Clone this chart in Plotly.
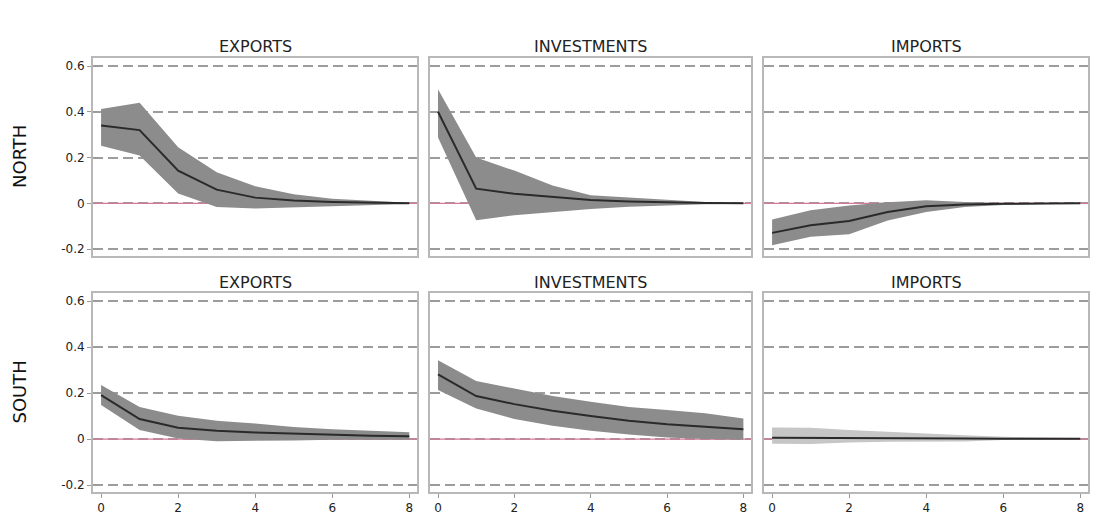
import plotly.graph_objects as go
from plotly.subplots import make_subplots

horizon = [0, 1, 2, 3, 4, 5, 6, 7, 8]
regions = ["NORTH", "SOUTH"]
variables = ["EXPORTS", "INVESTMENTS", "IMPORTS"]

# NORTH
north_exports_mid = [0.34, 0.32, 0.143, 0.06, 0.025, 0.012, 0.006, 0.003, 0.0]
north_exports_up = [0.412, 0.44, 0.245, 0.136, 0.075, 0.04, 0.02, 0.012, 0.003]
north_exports_lo = [0.252, 0.209, 0.043, -0.016, -0.022, -0.02, -0.015, -0.008, -0.003]

north_invest_mid = [0.40, 0.064, 0.042, 0.028, 0.015, 0.008, 0.004, 0.001, 0.0]
north_invest_up = [0.499, 0.20, 0.143, 0.078, 0.035, 0.025, 0.015, 0.006, 0.003]
north_invest_lo = [0.288, -0.074, -0.052, -0.038, -0.025, -0.015, -0.008, -0.004, -0.002]

north_imports_mid = [-0.129, -0.096, -0.077, -0.038, -0.013, -0.005, -0.002, -0.001, 0.0]
north_imports_up = [-0.071, -0.03, -0.009, 0.005, 0.014, 0.006, 0.002, 0.001, 0.001]
north_imports_lo = [-0.183, -0.146, -0.135, -0.075, -0.038, -0.016, -0.007, -0.003, -0.001]

# SOUTH
south_exports_mid = [0.191, 0.087, 0.049, 0.036, 0.029, 0.023, 0.017, 0.014, 0.012]
south_exports_up = [0.235, 0.14, 0.101, 0.08, 0.068, 0.053, 0.043, 0.036, 0.03]
south_exports_lo = [0.148, 0.039, 0.003, -0.009, -0.006, -0.006, -0.003, -0.002, -0.003]

south_invest_mid = [0.281, 0.187, 0.152, 0.123, 0.10, 0.08, 0.064, 0.052, 0.043]
south_invest_up = [0.343, 0.252, 0.22, 0.187, 0.162, 0.14, 0.126, 0.112, 0.09]
south_invest_lo = [0.213, 0.133, 0.087, 0.058, 0.036, 0.02, 0.007, 0.0, -0.003]

south_imports_mid = [0.006, 0.006, 0.005, 0.004, 0.003, 0.003, 0.002, 0.002, 0.001]
south_imports_up = [0.05, 0.049, 0.04, 0.032, 0.022, 0.017, 0.01, 0.007, 0.005]
south_imports_lo = [-0.02, -0.021, -0.015, -0.012, -0.011, -0.011, -0.004, -0.002, -0.001]

ytick_vals = [-0.2, 0, 0.2, 0.4, 0.6]
ytick_text = ["-0.2", "0", "0.2", "0.4", "0.6"]
xtick_vals = [0, 2, 4, 6, 8]
x_range = [-0.21, 8.2]
y_range = [-0.23, 0.635]

panels = [
    [(north_exports_mid, north_exports_up, north_exports_lo),
     (north_invest_mid, north_invest_up, north_invest_lo),
     (north_imports_mid, north_imports_up, north_imports_lo)],
    [(south_exports_mid, south_exports_up, south_exports_lo),
     (south_invest_mid, south_invest_up, south_invest_lo),
     (south_imports_mid, south_imports_up, south_imports_lo)],
]
band_colors = [["#8c8c8c", "#8c8c8c", "#8c8c8c"], ["#8c8c8c", "#8c8c8c", "#c6c6c6"]]

W, H = 1106, 530
OFF = 8  # page body margin
xpix = [(93, 417), (430, 751), (764, 1088)]
ypix = [(58, 256), (293, 492)]
FONT = "DejaVu Sans"

fig = make_subplots(rows=2, cols=3)

for r in range(2):
    for c in range(3):
        mid, up, lo = panels[r][c]
        # zero reference line (under the band)
        fig.add_trace(go.Scatter(
            x=x_range, y=[0, 0], mode="lines",
            line=dict(color="#d47a94", width=1.4), hoverinfo="skip",
            showlegend=False), row=r + 1, col=c + 1)
        fig.add_trace(go.Scatter(
            x=horizon + horizon[::-1], y=up + lo[::-1], fill="toself",
            fillcolor=band_colors[r][c], line=dict(width=0), mode="lines",
            hoverinfo="skip", showlegend=False), row=r + 1, col=c + 1)
        fig.add_trace(go.Scatter(
            x=horizon, y=mid, mode="lines",
            line=dict(color="#2a2a2a", width=2), showlegend=False),
            row=r + 1, col=c + 1)
        idx = r * 3 + c + 1
        xa = "xaxis" if idx == 1 else f"xaxis{idx}"
        ya = "yaxis" if idx == 1 else f"yaxis{idx}"
        x0, x1 = xpix[c]
        y0, y1 = ypix[r]
        fig.layout[xa].update(
            domain=[(x0 - OFF) / W, (x1 - OFF) / W], range=x_range,
            tickvals=xtick_vals, showticklabels=(r == 1),
            ticks="outside" if r == 1 else "", ticklen=4, tickcolor="#999",
            showgrid=False, zeroline=False,
            showline=True, linecolor="#b8b8b8", linewidth=2, mirror=True,
            tickfont=dict(family=FONT, size=12, color="#222"))
        fig.layout[ya].update(
            domain=[1 - (y1 - OFF) / H, 1 - (y0 - OFF) / H], range=y_range,
            tickvals=ytick_vals, ticktext=ytick_text, showticklabels=(c == 0),
            ticks="outside" if c == 0 else "", ticklen=4, tickcolor="#999",
            showgrid=True, gridcolor="#9c9c9c", gridwidth=2, griddash="10px,5px",
            zeroline=False,
            showline=True, linecolor="#b8b8b8", linewidth=2, mirror=True,
            tickfont=dict(family=FONT, size=12, color="#222"))
        xref = "x" if idx == 1 else f"x{idx}"
        fig.add_annotation(
            x=0.5, xref=f"{xref} domain", xanchor="center",
            y=1 - (47 if r == 0 else 282) / H + OFF / H, yref="paper", yanchor="middle",
            text=variables[c], showarrow=False,
            font=dict(family=FONT, size=16, color="#222"))

for r in range(2):
    y0, y1 = ypix[r]
    fig.add_annotation(
        x=(19 - OFF) / W, y=1 - ((y0 + y1) / 2 - OFF) / H, xref="paper", yref="paper",
        xanchor="center", yanchor="middle",
        text=regions[r], showarrow=False, textangle=-90,
        font=dict(family=FONT, size=18, color="#111"))

fig.update_layout(
    width=W, height=H, margin=dict(l=0, r=0, t=0, b=0),
    paper_bgcolor="white", plot_bgcolor="white", showlegend=False)

fig.write_html("out.html")
